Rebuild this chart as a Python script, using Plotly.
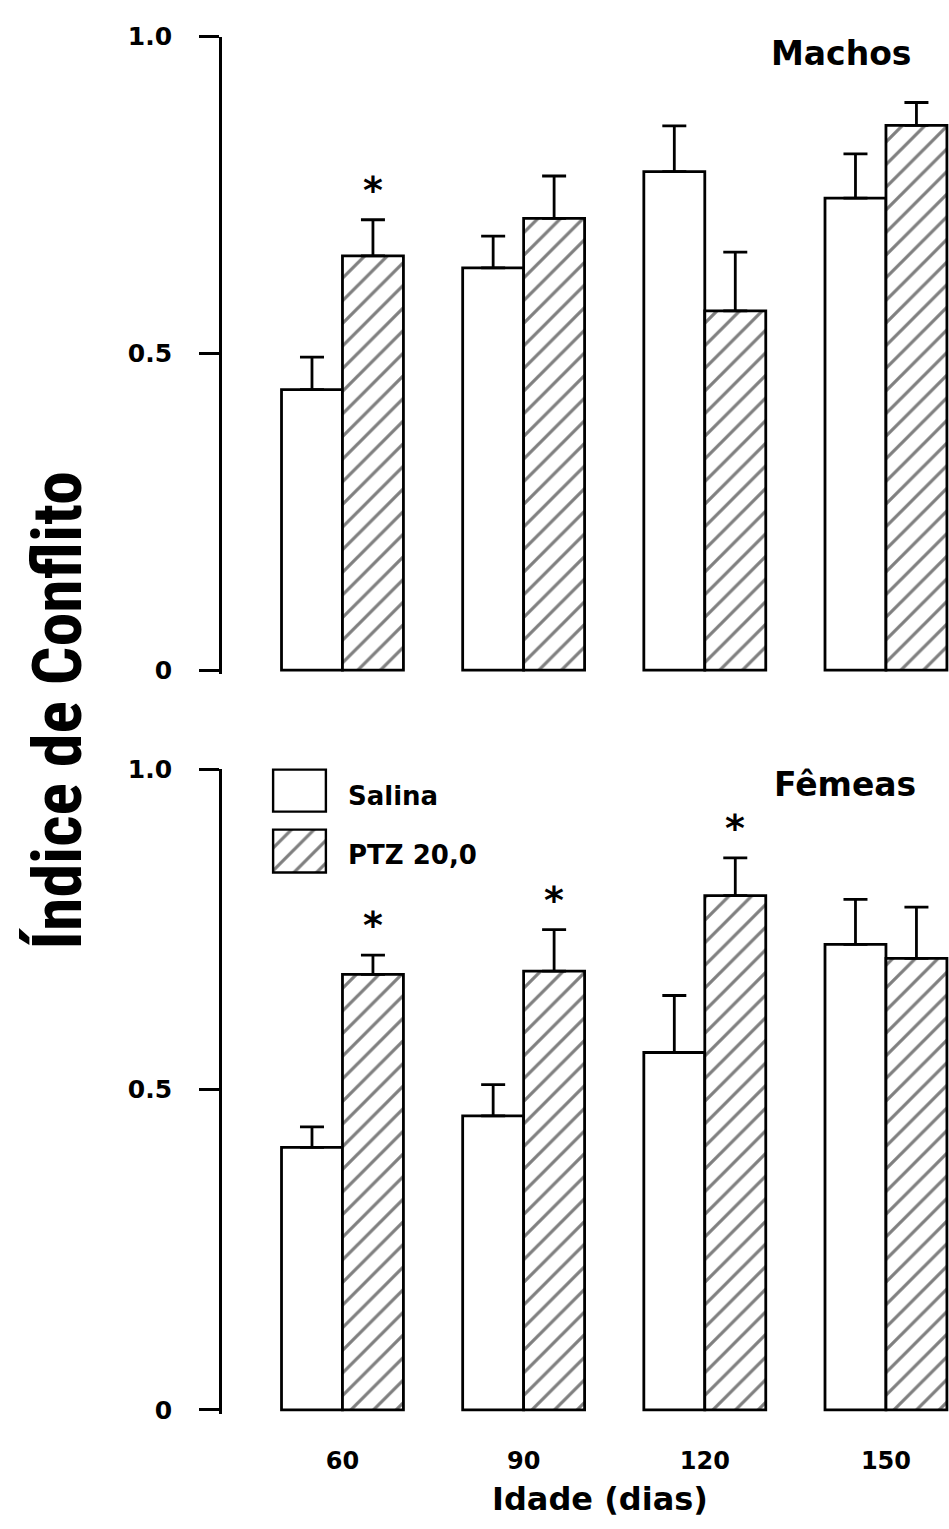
import plotly.graph_objects as go

# ---------------- data ----------------
ages = ["60", "90", "120", "150"]

machos_salina = [0.443, 0.635, 0.787, 0.745]
machos_salina_err = [0.051, 0.050, 0.072, 0.070]
machos_ptz = [0.654, 0.713, 0.567, 0.860]
machos_ptz_err = [0.057, 0.067, 0.093, 0.036]
machos_sig = [True, False, False, False]

femeas_salina = [0.410, 0.459, 0.558, 0.727]
femeas_salina_err = [0.032, 0.049, 0.089, 0.070]
femeas_ptz = [0.680, 0.685, 0.803, 0.705]
femeas_ptz_err = [0.030, 0.065, 0.059, 0.080]
femeas_sig = [True, True, True, False]

y_tickvals = [0, 0.5, 1.0]
y_ticktext = ["0", "0.5", "1.0"]

# ---------------- layout helpers ----------------
W, H = 949, 1529
L = 222
PW = W - L
BARGAP = 0.327
FONT = "DejaVu Sans"
NARROW = "Roboto Condensed, Liberation Sans Narrow, Roboto, sans-serif"


def ydom(top_px, bottom_px):
    return [1 - bottom_px / H, 1 - top_px / H]


def xdom(left_px, right_px):
    return [(left_px - L) / PW, (right_px - L) / PW]


def px_x(p):
    return (p - L) / PW


def px_y(p):
    return 1 - p / H


hatch = dict(shape="/", fgcolor="black", bgcolor="white", size=16, solidity=0.2)
outline = dict(color="black", width=2.8)


def err(vals):
    return dict(type="data", array=vals, arrayminus=[0] * len(vals), symmetric=False,
                color="black", thickness=2.8, width=12)


fig = go.Figure()


def add_panel(sal, sal_e, ptz, ptz_e, xa, ya):
    fig.add_trace(go.Bar(x=ages, y=sal, name="Salina", xaxis=xa, yaxis=ya,
                         marker=dict(color="white", line=outline),
                         error_y=err(sal_e), showlegend=False))
    fig.add_trace(go.Bar(x=ages, y=ptz, name="PTZ 20,0", xaxis=xa, yaxis=ya,
                         marker=dict(color="white", line=outline, pattern=hatch),
                         error_y=err(ptz_e), showlegend=False))


add_panel(machos_salina, machos_salina_err, machos_ptz, machos_ptz_err, "x2", "y2")
add_panel(femeas_salina, femeas_salina_err, femeas_ptz, femeas_ptz_err, "x", "y")

# legend swatches (small dedicated axes)
fig.add_trace(go.Bar(x=[0], y=[1], width=[1], xaxis="x3", yaxis="y3",
                     marker=dict(color="white", line=dict(color="black", width=2.4)),
                     showlegend=False, hoverinfo="skip"))
fig.add_trace(go.Bar(x=[0], y=[1], width=[1], xaxis="x4", yaxis="y4",
                     marker=dict(color="white", line=dict(color="black", width=2.4), pattern=hatch),
                     showlegend=False, hoverinfo="skip"))

xr = [-0.665, 3.348]
yr = [-0.006, 1.0]

yaxis_common = dict(range=yr, tickvals=y_tickvals, ticktext=y_ticktext, ticks="outside",
                    ticklen=20, tickwidth=2.8, tickcolor="black", showline=True,
                    linewidth=2.8, linecolor="black", showgrid=False, zeroline=False,
                    tickfont=dict(family=FONT, size=25, color="black", weight="bold"),
                    ticklabelstandoff=22, fixedrange=True)

blank = dict(visible=False, fixedrange=True)

fig.update_layout(
    width=W, height=H,
    margin=dict(l=L, r=0, t=0, b=0),
    paper_bgcolor="white", plot_bgcolor="white",
    barmode="group", bargap=BARGAP, bargroupgap=0,
    showlegend=False,
    xaxis=dict(domain=[0, 1], anchor="y", range=xr, type="category", showline=False,
               ticks="", showgrid=False, zeroline=False, ticklabelstandoff=30,
               tickfont=dict(family=FONT, size=24, color="black", weight="bold"),
               fixedrange=True),
    yaxis=dict(domain=ydom(768, 1423), anchor="x", **yaxis_common),
    xaxis2=dict(domain=[0, 1], anchor="y2", range=xr, type="category", showline=False,
                ticks="", showticklabels=False, showgrid=False, zeroline=False,
                fixedrange=True),
    yaxis2=dict(domain=ydom(23, 671), anchor="x2", **yaxis_common),
    xaxis3=dict(domain=xdom(271, 328), anchor="y3", range=[-0.54, 0.54], **blank),
    yaxis3=dict(domain=ydom(766, 813), anchor="x3", range=[-0.05, 1.05], **blank),
    xaxis4=dict(domain=xdom(271, 328), anchor="y4", range=[-0.54, 0.54], **blank),
    yaxis4=dict(domain=ydom(827, 875), anchor="x4", range=[-0.05, 1.05], **blank),
)

annotations = []
off = (1 - BARGAP) / 4
for sig, vals, errs, xr_, yr_ in [(machos_sig, machos_ptz, machos_ptz_err, "x2", "y2"),
                                  (femeas_sig, femeas_ptz, femeas_ptz_err, "x", "y")]:
    for i, s in enumerate(sig):
        if s:
            annotations.append(dict(x=i + off, y=vals[i] + errs[i], xref=xr_, yref=yr_,
                                    text="*", showarrow=False, xanchor="center",
                                    yanchor="bottom", yshift=6,
                                    font=dict(family=FONT, size=38, color="black", weight="bold")))

annotations += [
    dict(x=px_x(841), y=px_y(40), xref="paper", yref="paper", text="Machos", showarrow=False,
         xanchor="center", yanchor="middle",
         font=dict(family=FONT, size=33, color="black", weight="bold")),
    dict(x=px_x(845), y=px_y(783), xref="paper", yref="paper", text="Fêmeas", showarrow=False,
         xanchor="center", yanchor="middle",
         font=dict(family=FONT, size=33, color="black", weight="bold")),
    dict(x=px_x(346), y=px_y(795), xref="paper", yref="paper", text="Salina", showarrow=False,
         xanchor="left", yanchor="middle",
         font=dict(family=FONT, size=26, color="black", weight="bold")),
    dict(x=px_x(346), y=px_y(855), xref="paper", yref="paper", text="PTZ 20,0", showarrow=False,
         xanchor="left", yanchor="middle",
         font=dict(family=FONT, size=26, color="black", weight="bold")),
    dict(x=px_x(600), y=px_y(1510), xref="paper", yref="paper", text="Idade (dias)", showarrow=False,
         xanchor="center", yanchor="middle",
         font=dict(family=FONT, size=32, color="black", weight="bold")),
    dict(x=px_x(58), y=px_y(708), xref="paper", yref="paper", text="Índice de Conflito",
         showarrow=False, textangle=-90, xanchor="center", yanchor="middle",
         font=dict(family=NARROW, size=68, color="black", weight="bold")),
]
fig.update_layout(annotations=annotations)

fig.write_html("out.html")
